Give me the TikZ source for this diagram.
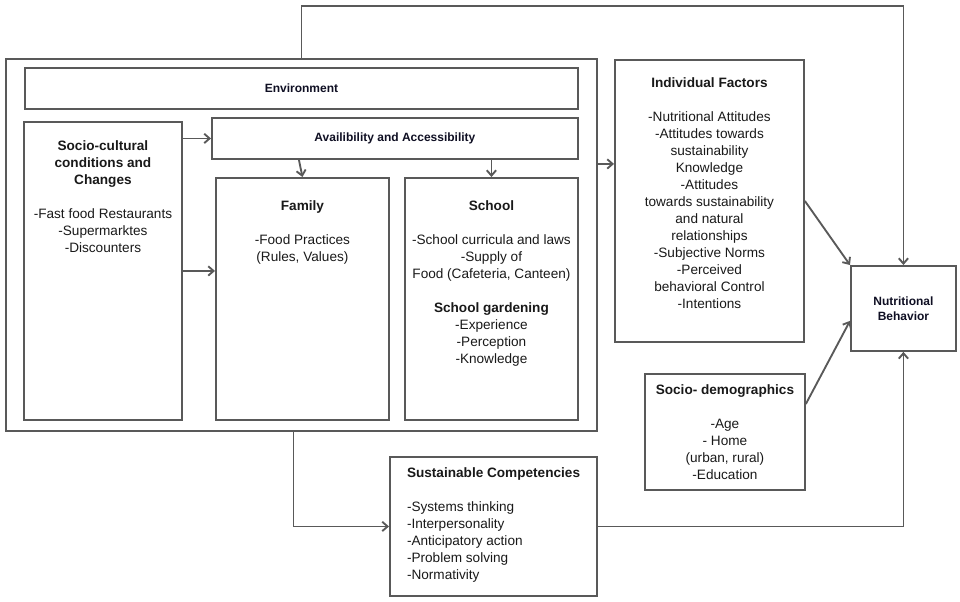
\documentclass[tikz,border=0pt]{standalone}
\usepackage{fontspec}
\setmainfont{Liberation Sans}
\usetikzlibrary{arrows.meta, positioning, calc}
\definecolor{linegray}{RGB}{89,89,89}
\definecolor{textdark}{RGB}{25,25,25}
\definecolor{labelnavy}{RGB}{15,15,35}

\begin{document}
\begin{tikzpicture}[
    x=0.75pt, y=-0.75pt,
    box/.style={draw=linegray, line width=1.4pt, inner sep=0pt, anchor=north west},
    txt/.style={inner sep=0pt, align=center, text=textdark, font=\fontsize{10.2}{12.75}\selectfont},
    lbl/.style={inner sep=0pt, align=center, text=labelnavy, font=\fontsize{9}{11.25}\selectfont\bfseries},
    arr/.style={draw=linegray, line width=1.4pt, -{Straight Barb[length=4pt, width=7pt]}}
]
    \useasboundingbox (0,0) rectangle (960,601);

    % environment frame and its parts
    \node[box, minimum width=443.25pt, minimum height=279pt] (frame) at (5,58) {};
    \node[box, lbl, minimum width=414.75pt, minimum height=30.75pt] (env) at (24,67) {Environment};
    \node[box, lbl, minimum width=274.5pt, minimum height=30.75pt] (avail) at (211,117) {Availibility and Accessibility};

    \node[box, minimum width=118.5pt, minimum height=223.5pt] (socio) at (23,121) {};
    \node[txt, below=14.25pt of socio.north] (sociotxt) {\textbf{Socio-cultural}\\ \textbf{conditions and}\\ \textbf{Changes}\\[12.75pt]
        -Fast food Restaurants\\ -Supermarktes\\ -Discounters};

    \node[box, minimum width=129.75pt, minimum height=181.5pt] (family) at (215,177) {};
    \node[txt, below=17.6pt of family.north] (familytxt) {\textbf{Family}\\[12.75pt] -Food Practices\\ (Rules, Values)};

    \node[box, minimum width=129.75pt, minimum height=181.5pt] (school) at (404,177) {};
    \node[txt, below=17.6pt of school.north] (schooltxt) {\textbf{School}\\[12.75pt] -School curricula and laws\\ -Supply of\\ Food (Cafeteria, Canteen)\\[12.75pt]
        \textbf{School gardening}\\ -Experience\\ -Perception\\ -Knowledge};

    % right side
    \node[box, minimum width=141.75pt, minimum height=211.5pt] (indiv) at (614,59) {};
    \node[txt, below=13.5pt of indiv.north] (indivtxt) {\textbf{Individual Factors}\\[12.75pt] -Nutritional Attitudes\\ -Attitudes towards\\ sustainability\\ Knowledge\\
        -Attitudes\\ towards sustainability\\ and natural\\ relationships\\ -Subjective Norms\\ -Perceived\\ behavioral Control\\ -Intentions};

    \node[box, lbl, minimum width=78.75pt, minimum height=63.75pt] (nutr) at (850,265) {Nutritional\\ Behavior};

    \node[box, minimum width=120pt, minimum height=87pt] (demo) at (644,373) {};
    \node[txt, below=8.25pt of demo.north] (demotxt) {\textbf{Socio- demographics}\\[12.75pt] -Age\\ - Home\\ (urban, rural)\\ -Education};

    \node[box, minimum width=155.25pt, minimum height=104.25pt] (sust) at (389,456) {};
    \node[txt, align=left, below right=8.6pt and 13.3pt of sust.north west] (susttxt) {\textbf{Sustainable Competencies}\\[12.75pt]
        -Systems thinking\\ -Interpersonality\\ -Anticipatory action\\ -Problem solving\\ -Normativity};

    % connectors
    \draw[arr] (frame.north) -- ++(0,-52) -| (nutr.north);
    \draw[arr] (socio.east |- avail.west) -- (avail.west);
    \draw[arr] (socio.east) -- (socio.east -| family.west);
    \draw[arr] ([xshift=-72pt]avail.south) -- (family.north);
    \draw[arr] (avail.south -| school.north) -- (school.north);
    \draw[arr] ([yshift=60.75pt]frame.east) -- ([yshift=27.75pt]indiv.west);
    \draw[arr] (indiv.east) -- (nutr.north west);
    \draw[arr] ([yshift=21pt]demo.east) -- ([yshift=23.25pt]nutr.south west);
    \coordinate (framefoot) at ([xshift=-6pt]frame.south);
    \draw[arr] (framefoot) |- (sust.west);
    \draw[arr] (sust.east) -| (nutr.south);
\end{tikzpicture}
\end{document}
